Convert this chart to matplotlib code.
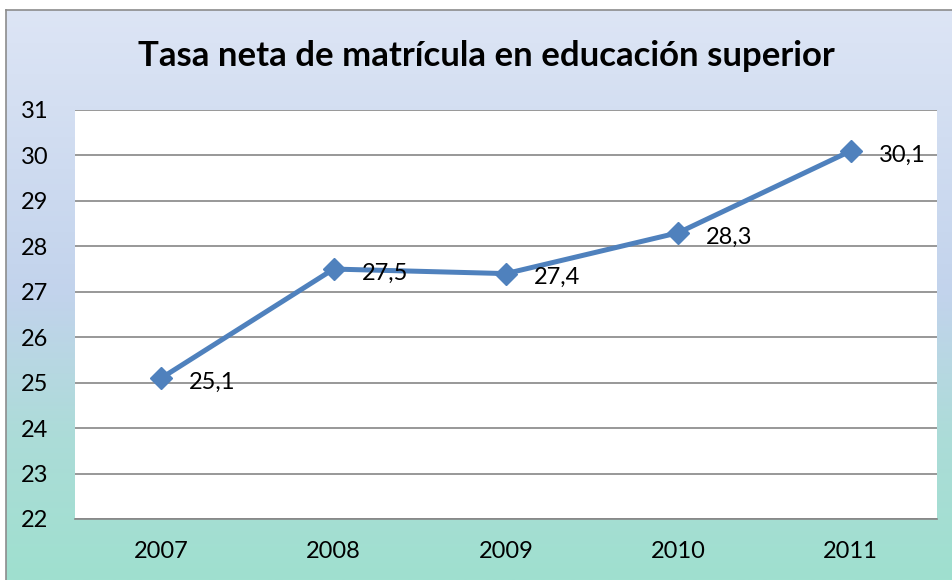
import matplotlib.pyplot as plt
import numpy as np
from matplotlib.colors import LinearSegmentedColormap

years = ["2007", "2008", "2009", "2010", "2011"]
tasa = [25.1, 27.5, 27.4, 28.3, 30.1]
labels = ["25,1", "27,5", "27,4", "28,3", "30,1"]

plt.rcParams['font.family'] = ['Lato', 'DejaVu Sans']

fig = plt.figure(figsize=(9.52, 5.80), dpi=100)

# background panel with vertical gradient
bg = fig.add_axes([6/952, 0, 1 - 6/952, 1 - 10/580])
grad = LinearSegmentedColormap.from_list(
    "bg", [(0.0, "#dde5f5"), (0.5, "#c2d3ec"), (0.75, "#acdcd8"), (1.0, "#9fe0cf")])
bg.imshow(np.linspace(0, 1, 256).reshape(-1, 1), aspect="auto", cmap=grad,
          extent=[0, 1, 0, 1], origin="upper")
bg.set_xticks([])
bg.set_yticks([])
for s in bg.spines.values():
    s.set_color("#8c8c8c")
    s.set_linewidth(1.2)
bg.spines["right"].set_visible(False)
bg.spines["bottom"].set_visible(False)

ax = fig.add_axes([75/952, 61/580, 862/952, 409/580])
ax.set_facecolor("white")
x = np.arange(len(years)) + 0.5
ax.plot(x, tasa, color="#4f81bd", linewidth=3.6, marker="D", markersize=11,
        zorder=3)
for xi, yi, lab in zip(x, tasa, labels):
    ax.annotate(lab, (xi, yi), xytext=(20, -3), textcoords="offset points",
                fontsize=17, va="center", ha="left", zorder=4)

ax.set_xlim(0, 5)
ax.set_ylim(22, 31)
ax.set_yticks(range(22, 32))
ax.set_xticks(x)
ax.set_xticklabels(years)
ax.tick_params(axis="both", length=0, labelsize=17)
ax.tick_params(axis="x", pad=16)
ax.tick_params(axis="y", pad=39)
for lab in ax.get_yticklabels():
    lab.set_horizontalalignment("left")
ax.grid(axis="y", color="#868686", linewidth=1.2)
ax.set_axisbelow(True)
for s in ["left", "right", "top"]:
    ax.spines[s].set_visible(False)
ax.spines["bottom"].set_color("#868686")
ax.spines["bottom"].set_linewidth(1.2)

fig.text(0.511, 0.903, "Tasa neta de matrícula en educación superior",
         ha="center", va="center", fontsize=25, fontweight="bold")

fig.savefig("out.png", dpi=100, facecolor="white")
